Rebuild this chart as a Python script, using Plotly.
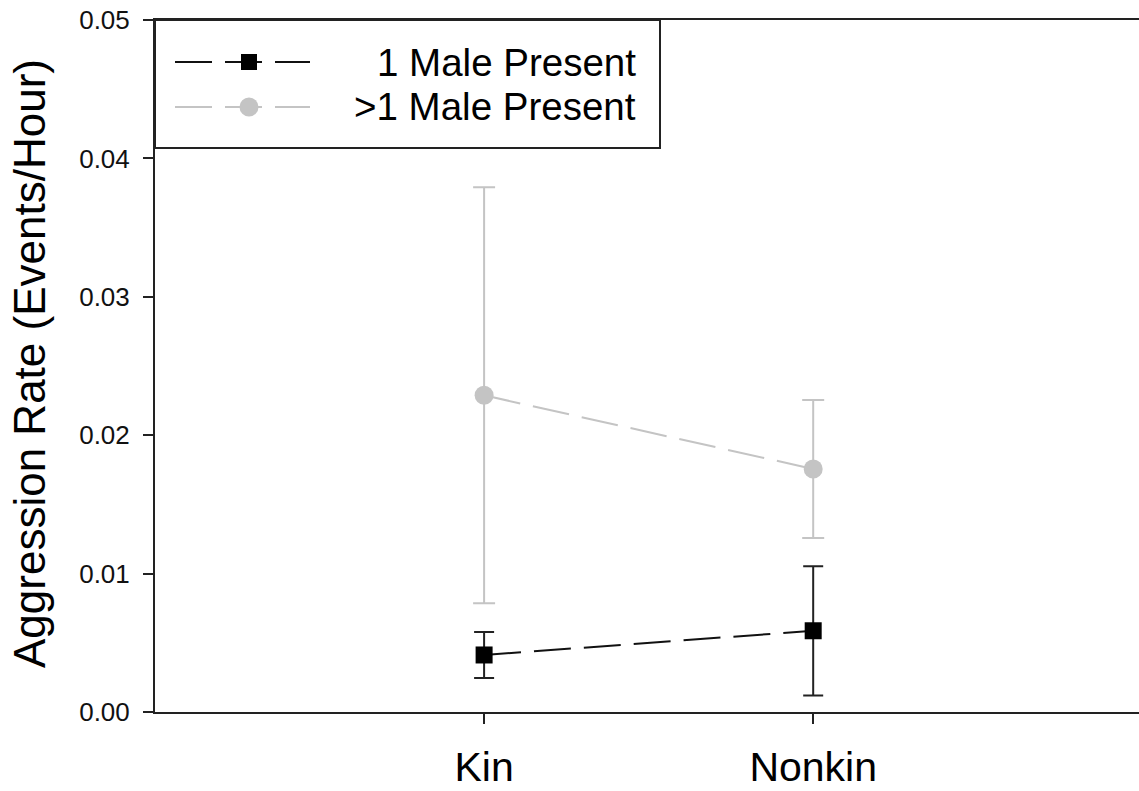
import plotly.graph_objects as go

# Group categories on the x axis
categories = ["Kin", "Nonkin"]

# Mean aggression rate (events/hour) and error bar half-lengths
one_male_mean = [0.00412, 0.00587]
one_male_err = [0.00166, 0.00467]
multi_male_mean = [0.02288, 0.01756]
multi_male_err = [0.01503, 0.00498]

series_names = ["1 Male Present", ">1 Male Present"]
y_ticks = [0.00, 0.01, 0.02, 0.03, 0.04, 0.05]

FONT = "Liberation Sans, Arial, sans-serif"
W, H = 1139, 791
ML, MR, MT, MB = 155, 0, 20, 79
PW, PH = W - ML - MR, H - MT - MB
GRAY = "#c4c4c4"
DASH = "37px,13px"

x_pos = [i + 1 for i in range(len(categories))]


def px(x):
    return (x - ML) / PW


def py(y):
    return (H - MB - y) / PH


fig = go.Figure()

fig.add_trace(go.Scatter(
    x=x_pos, y=multi_male_mean, name=series_names[1], mode="lines+markers",
    line=dict(color=GRAY, width=2, dash=DASH),
    marker=dict(symbol="circle", size=19, color=GRAY),
    error_y=dict(type="data", array=multi_male_err, visible=True,
                 color=GRAY, thickness=2, width=11),
    showlegend=False,
))

fig.add_trace(go.Scatter(
    x=x_pos, y=one_male_mean, name=series_names[0], mode="lines+markers",
    line=dict(color="#111111", width=2, dash=DASH),
    marker=dict(symbol="square", size=17, color="#000000"),
    error_y=dict(type="data", array=one_male_err, visible=True,
                 color="#222222", thickness=2, width=10),
    showlegend=False,
))

# Legend box drawn by hand so the sample lines can be long
shapes = [
    dict(type="rect", xref="paper", yref="paper",
         x0=px(155), x1=px(660), y0=py(148), y1=py(20),
         line=dict(color="#222222", width=2), fillcolor="white", layer="above"),
]
rows = [(62, "#111111", "square"), (107, GRAY, "circle")]
for yy, col, sym in rows:
    shapes.append(dict(type="line", xref="paper", yref="paper",
                       x0=px(175), x1=px(310), y0=py(yy), y1=py(yy),
                       line=dict(color=col, width=2, dash=DASH), layer="above"))
    s = 8 if sym == "square" else 9.5
    shapes.append(dict(type="rect" if sym == "square" else "circle",
                       xref="paper", yref="paper",
                       x0=px(249 - s), x1=px(249 + s), y0=py(yy + s), y1=py(yy - s),
                       line=dict(width=0), fillcolor=col if sym == "circle" else "#000000",
                       layer="above"))

annotations = [
    dict(text=series_names[0], xref="paper", yref="paper", x=px(638), y=py(62),
         xanchor="right", yanchor="middle", showarrow=False,
         font=dict(family=FONT, size=38.5, color="#000000")),
    dict(text=series_names[1], xref="paper", yref="paper", x=px(638), y=py(107),
         xanchor="right", yanchor="middle", showarrow=False,
         font=dict(family=FONT, size=38.5, color="#000000")),
    dict(text="Aggression Rate (Events/Hour)", xref="paper", yref="paper",
         x=px(29), y=py(364), xanchor="center", yanchor="middle", textangle=-90,
         showarrow=False, font=dict(family=FONT, size=44, color="#000000")),
]

fig.update_layout(
    width=W, height=H,
    margin=dict(l=ML, r=MR, t=MT, b=MB, pad=0),
    paper_bgcolor="white", plot_bgcolor="white",
    font=dict(family=FONT, color="#000000"),
    shapes=shapes, annotations=annotations,
    showlegend=False,
)

fig.update_xaxes(
    range=[0, 2.99], tickvals=x_pos, ticktext=categories,
    showline=True, linecolor="#222222", linewidth=2, mirror=True,
    ticks="outside", ticklen=10, tickwidth=2, tickcolor="#222222",
    showgrid=False, zeroline=False, ticklabelstandoff=8,
    tickfont=dict(family=FONT, size=41, color="#000000"),
)

fig.update_yaxes(
    range=[0, 0.05], tickvals=y_ticks, tickformat=".2f",
    showline=True, linecolor="#222222", linewidth=2,
    ticks="outside", ticklen=10, tickwidth=2, tickcolor="#222222",
    showgrid=False, zeroline=False, ticklabelstandoff=8,
    tickfont=dict(family=FONT, size=26, color="#111111"),
)

fig.write_html("out.html")
